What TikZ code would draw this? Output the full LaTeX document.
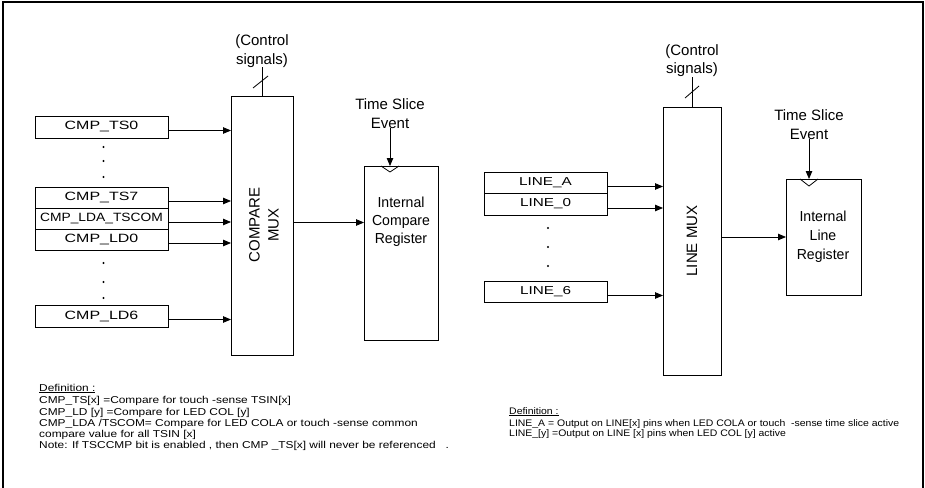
\documentclass[tikz,border=0pt]{standalone}
\usepackage{fontspec}
\setmainfont{Liberation Sans}
\newfontfamily\lblfont[FakeStretch=1.33]{Liberation Sans}
\newfontfamily\lblnarrow[FakeStretch=1.15]{Liberation Sans}
\newfontfamily\deffontL[FakeStretch=1.19]{Liberation Sans}
\newfontfamily\deffontR[FakeStretch=1.1]{Liberation Sans}
\newfontfamily\regfont[FakeStretch=0.97]{Liberation Sans}
\newcommand\ulin[1]{\setbox0\hbox{#1}\rlap{\rule[-1.1pt]{\wd0}{0.5pt}}\box0}
\usetikzlibrary{arrows.meta}
\begin{document}
\begin{tikzpicture}[x=1pt,y=-1pt,
  box/.style={draw,line width=0.9pt,inner sep=0pt,outer sep=0pt,anchor=north west},
  inbox/.style={box,minimum width=133pt,font=\lblfont\fontsize{12}{14}\selectfont},
  linbox/.style={box,minimum width=123pt,font=\lblfont\fontsize{11.5}{14}\selectfont},
  arr/.style={line width=0.8pt,-{Triangle[length=8pt,width=6.5pt]}},
  ln/.style={line width=0.8pt},
  muxtext/.style={rotate=90,align=center,inner sep=0pt,font=\fontsize{15}{19}\selectfont},
  regtext/.style={align=center,inner sep=0pt,font=\regfont\fontsize{14.5}{18}\selectfont},
  toptext/.style={align=center,inner sep=0pt,font=\fontsize{15}{18.5}\selectfont},
  deftext/.style={align=left,inner sep=0pt,anchor=north west}]
\useasboundingbox (0,0) rectangle (925,487);
% outer frame
\draw[line width=2pt] (3,492) -- (3,2) -- (923,2) -- (923,492);

% ---------- left part ----------
\node[inbox,minimum height=22pt] (ts0) at (35,116) {CMP\_TS0};
\node[inbox,minimum height=21pt] (ts7) at (35,187) {CMP\_TS7};
\node[inbox,minimum height=21pt,font=\lblnarrow\fontsize{12}{14}\selectfont] (lda) at (35,208) {CMP\_LDA\_TSCOM};
\node[inbox,minimum height=21pt] (ld0) at (35,229) {CMP\_LD0};
\node[inbox,minimum height=22pt] (ld6) at (35,305) {CMP\_LD6};

\foreach \yy in {147,161,177,263,282,298} \fill (103.5,\yy) circle (1.2pt);

\node[box,minimum width=62pt,minimum height=259pt] (cmux) at (231,96) {};
\node[muxtext] (cmuxT) at (264,225) {COMPARE\\MUX};

\foreach \n in {ts0,ts7,lda,ld0,ld6}
  \draw[arr] ([yshift=-3.5pt]\n.east) -- ([yshift=-3.5pt]\n.east -| cmux.west);

\node[toptext] (ctlL) at (262,51) {(Control\\signals)};
\draw[ln] (cmux.north) -- (cmux.north |- ctlL.south);
\draw[ln] (253,88) -- (268,76);

\node[box,minimum width=74pt,minimum height=174pt] (creg) at (364,166) {};
\node[regtext] (cregT) at (401,221.5) {Internal\\Compare\\Register};
\draw[arr] ([yshift=3pt]cmux.east) -- ([yshift=3pt]cmux.east -| creg.west);

\node[toptext] (tsL) at (390,113.5) {Time Slice\\Event};
\draw[arr] (tsL.south) -- (tsL.south |- creg.north);
\draw[ln] (381,166) -- (390,172) -- (399,166);

% ---------- right part ----------
\node[linbox,minimum height=21pt] (la) at (484,172) {LINE\_A};
\node[linbox,minimum height=22pt] (l0) at (484,193) {LINE\_0};
\node[linbox,minimum height=21pt] (l6) at (484,281) {LINE\_6};

\foreach \yy in {228,247,266} \fill (548,\yy) circle (1.2pt);

\node[box,minimum width=58pt,minimum height=268pt] (lmux) at (663,107) {};
\node[muxtext] (lmuxT) at (692,241) {LINE MUX};

\foreach \n in {la,l0,l6}
  \draw[arr] ([yshift=-4pt]\n.east) -- ([yshift=-4pt]\n.east -| lmux.west);

\node[toptext] (ctlR) at (692,60.5) {(Control\\signals)};
\draw[ln] (lmux.north) -- (lmux.north |- ctlR.south);
\draw[ln] (685,98) -- (699,86);

\node[box,minimum width=75pt,minimum height=116pt] (lreg) at (786,179) {};
\node[regtext,font=\regfont\fontsize{14.5}{19}\selectfont] (lregT) at (823,237) {Internal\\Line\\Register};
\draw[arr] ([yshift=4pt]lmux.east) -- ([yshift=4pt]lmux.east -| lreg.west);

\node[toptext] (tsR) at (809,124.5) {Time Slice\\Event};
\draw[arr] (tsR.south) -- (tsR.south |- lreg.north);
\draw[ln] (800,179) -- (809,186) -- (818,179);

% ---------- definitions ----------
\node[deftext,font=\deffontL\fontsize{10}{11.3}\selectfont] (defL) at (39,384) {%
\ulin{Definition :}\\[1pt]
CMP\_TS[x] =Compare for touch -sense TSIN[x]\\
CMP\_LD [y] =Compare for LED COL [y]\\
CMP\_LDA /TSCOM= Compare for LED COLA or touch -sense common\\
compare value for all TSIN [x]\\
Note: If TSCCMP bit is enabled , then CMP \_TS[x] will never be referenced \ \ .};

\node[deftext,font=\deffontR\fontsize{9.5}{10.7}\selectfont] (defR) at (509,407.5) {%
\ulin{Definition :}\\[0.8pt]
LINE\_A = Output on LINE[x] pins when LED COLA or touch \ -sense time slice active\\
LINE\_[y] =Output on LINE [x] pins when LED COL [y] active};
\end{tikzpicture}
\end{document}
